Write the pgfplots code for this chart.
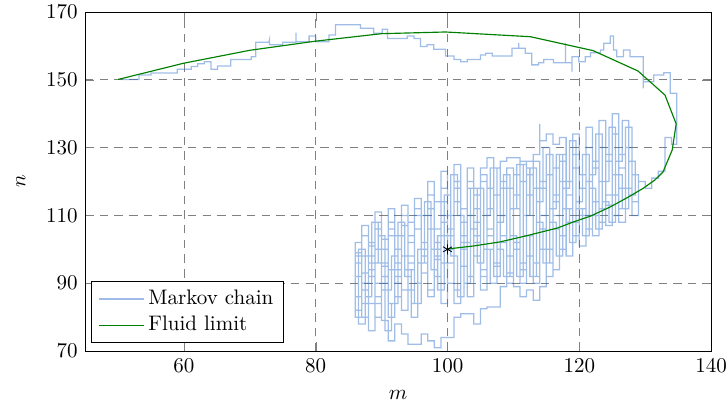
\documentclass[border=0pt]{standalone}
\usepackage{pgfplots}
\pgfplotsset{compat=1.18}
\definecolor{mc}{RGB}{55,117,205}
\definecolor{fl}{RGB}{0,128,0}
\begin{document}
\begin{tikzpicture}
\begin{axis}[
  name=ax,
  scale only axis,
  width=298pt, height=161.4pt,
  xmin=45, xmax=140, ymin=70, ymax=170,
  xtick={60,80,100,120,140},
  ytick={70,90,110,130,150,170},
  grid=major,
  grid style={gray, dash pattern=on 4pt off 3pt},
  xlabel={$m$}, ylabel={$n$},
  xlabel style={yshift=-2pt},
  ylabel style={yshift=3pt},
  legend style={at={(0.01,0.024)}, anchor=south west, cells={anchor=west}},
  legend image code/.code={\draw[#1] (0cm,0cm) -- (0.75cm,0cm);},
]
\addplot[mc, opacity=0.48, line width=0.6pt] coordinates {
(100,100)(100,108)(99,108)(99,92)(98,92)(98,112)(97,112)(97,96)(96,96)(96,106)(95,106)(95,88)(94,88)(94,98)(93,98)(93,86)(92,86)(92,104)(91,104)(91,90)(90,90)(90,108)(89,108)(89,94)(88,94)(88,84)(87,84)(87,96)(86,96)(86,80)(87,80)(87,90)(88,90)(88,76)(89,76)(89,86)(90,86)(90,79)(91,79)(91,73)(92,73)(92,78)(93,78)(93,75)(94,75)(94,72)(96,72)(96,75)(97,75)(97,73)(98,73)(98,71)(99,71)(99,74)(101,74)(101,80)(102,80)(102,81)(104,81)(104,78)(105,78)(105,82.5)(106,82.5)(106,83)(108,83)(108,89)(109,89)(109,92)(110,92)(110,89)(111,89)(111,86)(112,86)(112,88)(113,88)(113,85)(114,85)(114,89)
(115,89)(115,100)(116,100)(116,94)(117,94)(117,104)(118,104)(118,98)(119,98)(119,108)(120,108)(120,101)(121,101)(121,110)(122,110)(122,104)(123,104)(123,112)(124,112)(124,107)(125,107)(125,116)(126,116)(126,108)(127,108)(127,118)(128,118)(128,110)(129,110)(129,122)
(128,122)(128,136)(127,136)(127,124)(126,124)(126,140)(125,140)(125,128)(124,128)(124,138)(123,138)(123,126)(122,126)(122,136)(121,136)(121,122)(120,122)(120,134)(119,134)(119,120)(118,120)(118,133)(117,133)(117,131)(116,131)(116,134)(115,134)(115,132)(114,132)(114,137)(114,128)(113,128)(113,126)(112,126)(112,125)(111,125)(111,127)(109,127)(109,126)(108,126)(108,124)(107,124)(107,127)(106,127)(106,124)(105,124)(105,116)(104,116)(104,124)(103,124)(103,112)(102,112)(102,125)(101,125)(101,110)(100,110)(100,123)(99,123)(99,114)(98,114)(98,120)(97,120)(97,110)(96,110)(96,115)(95,115)(95,108)(94,108)(94,113)(93,113)(93,104)(92,104)(92,112)(91,112)(91,100)(90,100)(90,111)(89,111)(89,102)(88,102)(88,107)(87,107)(87,98)(86,98)(86,102)
(87,102)(87,88)(88,88)(88,98)(89,98)(89,80)(90,80)(90,95)(91,95)(91,84)(92,84)(92,100)(93,100)(93,88)(94,88)(94,104)(95,104)(95,90)(96,90)(96,102)(97,102)(97,86)(98,86)(98,100)(99,100)(99,84)(100,84)(100,104)(101,104)(101,88)(102,88)(102,108)(103,108)(103,92)(104,92)(104,112)(105,112)(105,94)(106,94)(106,118)(107,118)(107,96)(108,96)(108,120)(109,120)(109,98)(110,98)(110,122)(111,122)(111,94)(112,94)(112,124)(113,124)(113,96)(114,96)(114,120)(115,120)(115,100)(116,100)(116,124)(117,124)(117,104)(118,104)(118,120)
(117,120)(117,110)(116,110)(116,96)(115,96)(115,118)(114,118)(114,92)(113,92)(113,122)(112,122)(112,90)(111,90)(111,116)(110,116)(110,93)(109,93)(109,118)(108,118)(108,95)(107,95)(107,112)(106,112)(106,92)(105,92)(105,108)(104,108)(104,86)(103,86)(103,104)(102,104)(102,84)(101,84)(101,100)(100,100)(100,96)(99,96)(99,106)(98,106)(98,88)(97,88)(97,100)(96,100)(96,84)(95,84)(95,96)(94,96)(94,82)(93,82)(93,92)(92,92)(92,80)(91,80)(91,96)(90,96)(90,84)(89,84)(89,92)(88,92)(88,80)(87,80)(87,86)(86,86)(86,92)
(86,99)(87,99)(87,93)(88,93)(88,101)(89,101)(89,90)(90,90)(90,103)(91,103)(91,94)(92,94)(92,90)(93,90)(93,107)(94,107)(94,102)(95,102)(95,110)(96,110)(96,93)(97,93)(97,106)(98,106)(98,97)(99,97)(99,110)(100,110)(100,90)(101,90)(101,114)(102,114)(102,95)(103,95)(103,110)(104,110)(104,102)(105,102)(105,88)(106,88)(106,106)(107,106)(107,92)(108,92)(108,110)(109,110)(109,90)(110,90)(110,112)(111,112)(111,96)(112,96)(112,116)(113,116)(113,90)(114,90)(114,110)(115,110)(115,92)(116,92)(116,114)(117,114)(117,100)(118,100)(118,116)(119,116)(119,104)(120,104)(120,118)(121,118)(121,106)(122,106)(122,124)(123,124)(123,108)(124,108)(124,126)(125,126)(125,110)(126,110)(126,128)(127,128)(127,112)
(126,112)(126,122)(125,122)(125,113)(124,113)(124,120)(123,120)(123,110)(122,110)(122,120)(121,120)(121,112)(120,112)(120,124)(119,124)(119,112)(118,112)(118,128)(117,128)(117,116)(116,116)(116,128)(115,128)(115,106)(114,106)(114,126)(113,126)(113,104)(112,104)(112,120)(111,120)(111,102)(110,102)(110,118)(109,118)(109,102)(108,102)(108,116)(107,116)(107,104)(106,104)(106,120)(105,120)(105,104)(104,104)(104,120)(103,120)(103,102)(102,102)(102,118)(101,118)(101,96)(100,96)(100,114)(99,114)(99,98)(98,98)(98,116)(97,116)(97,102)(96,102)(96,112)(95,112)(95,98)(94,98)(94,110)(93,110)(93,94)(92,94)(92,106)(91,106)(91,88)(90,88)(90,100)(89,100)(89,84)(88,84)(88,98)(87,98)(87,82)(86,82)(86,92)
(86.5,92)(86.5,100)(87.5,100)(87.5,86)(88.5,86)(88.5,96)(89.5,96)(89.5,104)(90.5,104)(90.5,88)(91.5,88)(91.5,98)(92.5,98)(92.5,108)(93.5,108)(93.5,92)(94.5,92)(94.5,84)(95.5,84)(95.5,100)(96.5,100)(96.5,110)(97.5,110)(97.5,94)(98.5,94)(98.5,104)(99.5,104)(99.5,116)(100.5,116)(100.5,98)(101.5,98)(101.5,86)(102.5,86)(102.5,102)(103.5,102)(103.5,118)(104.5,118)(104.5,96)(105.5,96)(105.5,110)(106.5,110)(106.5,124)(107.5,124)(107.5,100)(108.5,100)(108.5,92)(109.5,92)(109.5,112)(110.5,112)(110.5,125)(111.5,125)(111.5,104)(112.5,104)(112.5,92)(113.5,92)(113.5,114)(114.5,114)(114.5,130)(115.5,130)(115.5,108)(116.5,108)(116.5,98)(117.5,98)(117.5,118)(118.5,118)(118.5,132)(119.5,132)(119.5,112)(120.5,112)(120.5,104)(121.5,104)(121.5,122)(122.5,122)(122.5,134)(123.5,134)(123.5,114)(124.5,114)(124.5,108)(125.5,108)(125.5,126)(126.5,126)(126.5,138)(127.5,138)(127.5,116)(128.5,116)(128.5,126)
(127.5,126)(127.5,112)(126.5,112)(126.5,122)(125.5,122)(125.5,136)(124.5,136)(124.5,120)(123.5,120)(123.5,106)(122.5,106)(122.5,118)(121.5,118)(121.5,128)(120.5,128)(120.5,114)(119.5,114)(119.5,102)(118.5,102)(118.5,112)(117.5,112)(117.5,128)(116.5,128)(116.5,112)(115.5,112)(115.5,96)(114.5,96)(114.5,108)(113.5,108)(113.5,124)(112.5,124)(112.5,110)(111.5,110)(111.5,92)(110.5,92)(110.5,104)(109.5,104)(109.5,122)(108.5,122)(108.5,108)(107.5,108)(107.5,90)(106.5,90)(106.5,100)(105.5,100)(105.5,118)(104.5,118)(104.5,106)(103.5,106)(103.5,90)(102.5,90)(102.5,110)(101.5,110)(101.5,122)(100.5,122)(100.5,104)(99.5,104)(99.5,88)(98.5,88)(98.5,100)(97.5,100)(97.5,114)(96.5,114)(96.5,96)(95.5,96)(95.5,80)(94.5,80)(94.5,94)(93.5,94)(93.5,104)(92.5,104)(92.5,84)(91.5,84)(91.5,76)(90.5,76)(90.5,96)(89.5,96)(89.5,108)(88.5,108)(88.5,90)(87.5,90)(87.5,78)(86.5,78)(86.5,92)(86,92)
(87,92)(87,104)(88,104)(88,96)(89,96)(89,106)(90,106)(90,92)(91,92)(91,108)(92,108)(92,96)(93,96)(93,110)(94,110)(94,94)(95,94)(95,112)(96,112)(96,98)(97,98)(97,116)(98,116)(98,102)(99,102)(99,118)(100,118)(100,106)(101,106)(101,120)(102,120)(102,100)(103,100)(103,118)(104,118)(104,98)(105,98)(105,122)(106,122)(106,100)(107,100)(107,124)(108,124)(108,104)(109,104)(109,124)(110,124)(110,100)(111,100)(111,126)(112,126)(112,98)(113,98)(113,126)(113,118)(114,118)(114,100)(115,100)(115,122)(116,122)(116,106)(117,106)(117,126)(118,126)(118,108)(119,108)(119,128)(120,128)(120,110)(121,110)(121,130)(122,130)(122,114)(123,114)(123,130)(124,130)(124,116)(125,116)(125,134)(126,134)(126,118)(127,118)(127,130)(128,130)(128,114)(129,114)(129,120)(130,120)(130,118)(131,118)(131,121)(132,121)(132,123)(133,123)(133,133)(134,133)(134,131)(134.8,131)(134.8,146)
(133.8,146)(133.8,152.1)(132.8,152.1)(132.8,151.4)(131.3,151.4)(131.3,149.4)(129.7,149.4)(129.7,147.5)(129.7,156.8)(127.7,156.8)(127.7,158.8)(126.7,158.8)(126.7,156.8)(125.7,156.8)(125.7,158.8)(125.2,158.8)(125.2,162.9)(124.7,162.9)(124.7,160.8)(123.7,160.8)(123.7,158.8)(123.2,158.8)(123.2,158)(121.7,158)(121.7,156.8)(120.9,156.8)(120.9,155.3)(119.9,155.3)(119.9,156.8)(118.9,156.8)(118.9,152.4)(118.9,155)(117.9,155)(117.9,160.8)(117.9,155)(116.1,155)(116.1,156)(114.6,156)(114.6,155)(113.8,155)(113.8,154.4)(112.8,154.4)(112.8,157.8)(111.8,157.8)(111.8,159.3)(110.8,159.3)(110.8,160.8)(110.8,159.3)(109.8,159.3)(109.8,157)(106.8,157)(106.8,157.8)(105.8,157.8)(105.8,157.3)(105,157.3)(105,156)(103,156)(103,155.3)(102,155.3)(102,156)(101,156)(101,157)(99.7,157)(99.7,159)(97.9,159)(97.9,160.3)(96.9,160.3)(96.9,159.8)(95.9,159.8)(95.9,162.2)(94.9,162.2)(94.9,162.9)(93.9,162.9)(93.9,162.2)(92.9,162.2)
(90.9,162.2)(90.9,164.9)(90.1,164.9)(90.1,163.7)(88.8,163.7)(88.8,165.2)(86.8,165.2)(86.8,166.2)(83,166.2)(83,163.2)(82,163.2)(82,161.2)(80,161.2)(80,162.9)(79,162.9)(79,161.2)(77,161.2)(77,163.9)(77,161.1)(75,161.1)(75,160.3)(73,160.3)(73,161.9)(72.9,161.1)(70.9,161.1)(70.9,156.8)(70.2,156.8)(70.2,156)(67.1,156)(67.1,154.1)(65.1,154.1)(65.1,153.1)(64.1,153.1)(64.1,155.3)(63.1,155.3)(63.1,154.7)(62.1,154.7)(62.1,153.9)(61.1,153.9)(61.1,153.1)(59,153.1)(59,152)(55,152)(55,151.4)(53.2,151.4)(53.2,150.1)(50.5,150.1)
};
\addlegendentry{Markov chain}
\addplot[fl, line width=0.55pt] coordinates {
(100,100.1)(104,101)(108,102.2)(112,104)(116.7,106.3)(119,108)(121.7,109.8)(124.7,112.5)(127.7,115.7)(129.7,118)(131.5,120.5)(132.7,122.8)(134.1,129.3)(134.7,137)(133,145.5)(128.9,152.6)(122.1,158.6)(112.6,162.7)(99.7,164.1)(90,163.6)(80,161.4)(70,158.7)(60,154.9)(50,150.1)
};
\addlegendentry{Fluid limit}
\addplot[only marks, mark=asterisk, black, mark size=2.4pt, forget plot] coordinates {(100,100)};
\end{axis}
\pgfresetboundingbox
\path ([shift={(-40.5pt,-26.7pt)}]ax.south west) rectangle ([shift={(7.1pt,5.7pt)}]ax.north east);
\end{tikzpicture}
\end{document}
